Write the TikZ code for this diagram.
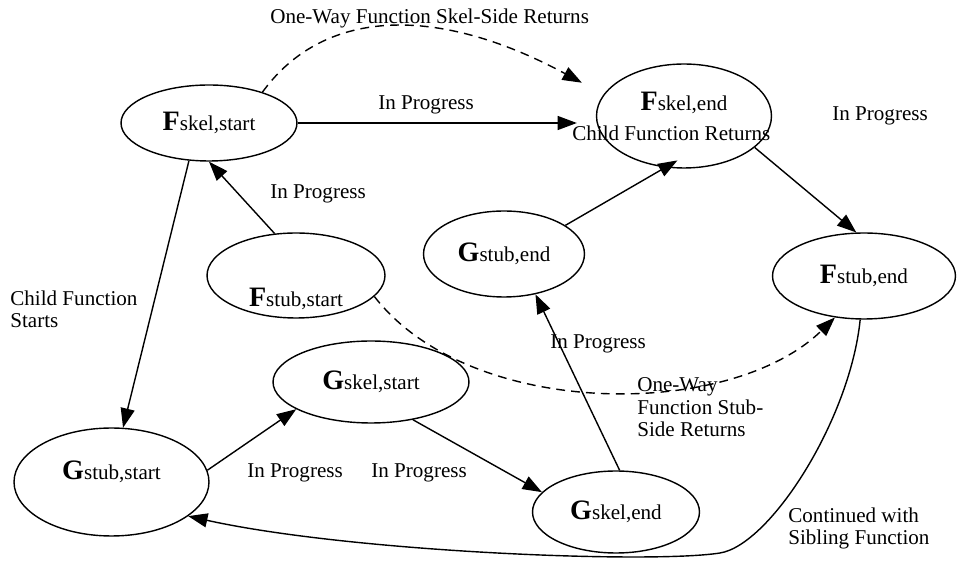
\documentclass[tikz,border=0pt]{standalone}
\usepackage{fontspec}
\setmainfont{Liberation Serif}
\usetikzlibrary{arrows.meta,shapes.geometric}
\newcommand{\stlabel}[2]{{\fontsize{16}{16}\selectfont\bfseries #1}#2}

\begin{document}
\begin{tikzpicture}[x=0.02cm,y=-0.02cm,
  every node/.style={font=\fontsize{12}{13}\selectfont},
  state/.style={draw,thick,ellipse,inner sep=0pt},
  arr/.style={thick,-{Triangle[length=11pt,width=8pt]}},
  dashline/.style={dash pattern=on 5pt off 3.5pt},
  txt/.style={anchor=base west,inner sep=0pt,align=left}]
  \useasboundingbox (0,0) rectangle (958,567);
  % states
  \node[state,minimum width=3.52cm,minimum height=1.52cm] (FskS) at (209,123) {\stlabel{F}{skel,start}};
  \node[state,minimum width=3.50cm,minimum height=2.08cm,
    label={[yshift=7.4pt]center:\stlabel{F}{skel,end}}] (FskE) at (684,116) {};
  \node[state,minimum width=3.56cm,minimum height=1.70cm,
    label={[yshift=-13.4pt]center:\stlabel{F}{stub,start}}] (FstS) at (296,275.5) {};
  \node[state,minimum width=3.22cm,minimum height=1.72cm] (GstE) at (504,254) {\stlabel{G}{stub,end}};
  \node[state,minimum width=3.66cm,minimum height=1.72cm] (FstE) at (864,276) {\stlabel{F}{stub,end}};
  \node[state,minimum width=3.90cm,minimum height=2.16cm,
    label={[yshift=5.7pt]center:\stlabel{G}{stub,start}}] (GstS) at (111.5,482) {};
  \node[state,minimum width=3.92cm,minimum height=1.64cm] (GskS) at (371,382) {\stlabel{G}{skel,start}};
  \node[state,minimum width=3.34cm,minimum height=1.64cm] (GskE) at (616,512) {\stlabel{G}{skel,end}};

  % transitions
  \draw[arr,shorten >=10.8pt] (FskS.east) -- (FskS.east -| FskE.west);
  \draw[arr] (FstS.117) -- (FskS.south);
  \draw[arr] (FskS.-118) -- (GstS.78);
  \draw[arr] (GstS.7) -- (GskS.-160);
  \draw[arr] (GskS.-42) -- (GskE.165);
  \draw[arr] (GskE.85) -- (GstE.-52);
  \draw[arr,shorten >=-8pt] (GstE.25) -- (FskE.-110);
  \draw[arr] (FskE.-24) -- (FstE.100);
  \draw[arr] (FstE.-95) .. controls (850,420) and (770,545) .. (720,553)
    .. controls (650,564) and (350,552) .. (GstS.-24);
  \draw[arr,dashline,shorten >=14pt] (FskS.30) .. controls (325,6) and (440,6) .. (FskE.165);
  \draw[arr,dashline] (FstS.-15) .. controls (470,420) and (730,420) .. (FstE.-125);

  % labels
  \node[txt] (tSkelRet) at (270,24) {One-Way Function Skel-Side Returns};
  \node[txt] (tProgA) at (378,110) {In Progress};
  \node[txt] (tProgB) at (270,199) {In Progress};
  \node[txt] (tProgC) at (832,121) {In Progress};
  \node[txt] (tChildRet) at (572,141) {Child Function Returns};
  \node[txt] (tChildSt) at (10,328) {Child Function\\Starts};
  \node[txt] (tProgD) at (550,349) {In Progress};
  \node[txt] (tStubRet) at (637,437) {One-Way\\Function Stub-\\Side Returns};
  \node[txt] (tProgE) at (247,478) {In Progress};
  \node[txt] (tProgF) at (371,478) {In Progress};
  \node[txt] (tSibling) at (788,545) {Continued with\\Sibling Function};
\end{tikzpicture}
\end{document}
